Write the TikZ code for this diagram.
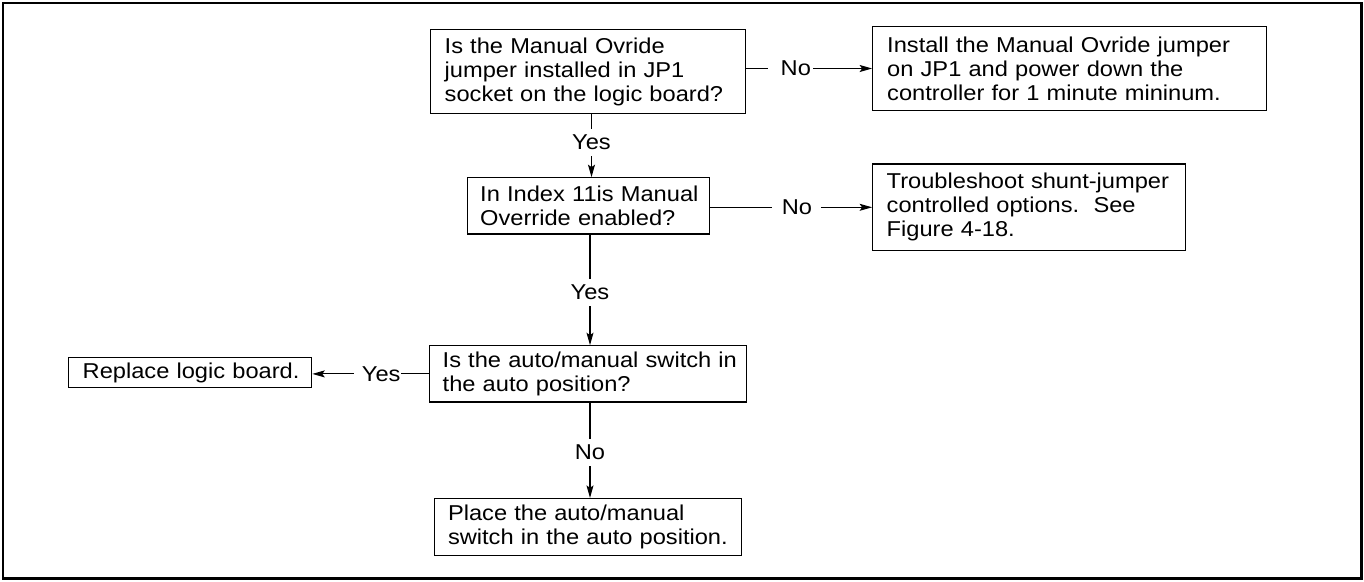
\documentclass[tikz,border=0pt]{standalone}
\usepackage{fontspec}
\setmainfont{Liberation Sans}[FakeStretch=1.1]
\usetikzlibrary{arrows.meta}
\begin{document}
\begin{tikzpicture}[x=1pt,y=-1pt,
  every node/.style={font=\fontsize{21.5}{24}\selectfont, text=black},
  box/.style={draw, line width=1.2pt, inner xsep=0pt, inner ysep=0pt, align=left},
  boxw/.style 2 args={box, minimum width=#1pt, text width=#1pt, execute at begin node={\leftskip=#2pt}},
  lab/.style={inner xsep=0pt, inner ysep=6pt},
  conn/.style={line width=1.1pt},
  arr/.style={conn, -{Stealth[length=12.5pt,width=7pt,inset=2.5pt]}}]
\useasboundingbox (0,0) rectangle (1364,581);
\draw[line width=2.6pt] (3,3) rectangle (1361.5,578.5);

\node[boxw={315}{14}, minimum height=83.4pt] (b1) at (588.2,71.5) {Is the Manual Ovride\\jumper installed in JP1\\socket on the logic board?};
\node[boxw={394}{14.5}, minimum height=83.6pt] (b2) at (1069.7,68.5) {Install the Manual Ovride jumper\\on JP1 and power down the\\controller for 1 minute mininum.};
\node[boxw={242}{12.5}, minimum height=56.3pt] (b3) at (588.7,205.9) {In Index 11is Manual\\Override enabled?};
\node[boxw={313}{14}, minimum height=86.7pt] (b4) at (1029.2,207.3) {Troubleshoot shunt-jumper\\controlled options.\ \ See\\Figure 4-18.};
\node[boxw={317.4}{13.4}, minimum height=56.3pt] (b5) at (588,373.9) {Is the auto/manual switch in\\the auto position?};
\node[boxw={243.4}{14.4}, minimum height=30.4pt] (b6) at (190,372.5) {Replace logic board.};
\node[boxw={307.4}{13.7}, minimum height=57pt] (b7) at (588,527) {Place the auto/manual\\switch in the auto position.};

\node[lab] (no1) at (795.8,68.5) {No};
\node[lab] (no2) at (797,207.3) {No};
\node[lab] (yes1) at (591.5,142.3) {Yes};
\node[lab] (yes2) at (590,292.3) {Yes};
\node[lab] (no3) at (590,452.3) {No};
\node[lab] (yes4) at (381.2,373.9) {Yes};

\draw[conn] (b1.east |- no1) -- ([xshift=-12pt]no1.west);
\draw[arr] ([xshift=2pt]no1.east) -- (b2.west |- no1);
\draw[conn] (b3.east |- no2) -- ([xshift=-10pt]no2.west);
\draw[arr] ([xshift=8.5pt]no2.east) -- (b4.west |- no2);
\draw[conn] (b1.south -| yes1) -- (yes1.north);
\draw[arr] (yes1.south) -- (b3.north -| yes1);
\draw[conn] (b3.south -| yes2) -- (yes2.north);
\draw[arr] (yes2.south) -- (b5.north -| yes2);
\draw[conn] (b5.south -| no3) -- (no3.north);
\draw[arr] (no3.south) -- (b7.north -| no3);
\draw[conn] (b5.west) -- (yes4.east |- b5.west);
\draw[arr] ([xshift=-8pt]yes4.west) -- (b6.east |- yes4);
\end{tikzpicture}
\end{document}
